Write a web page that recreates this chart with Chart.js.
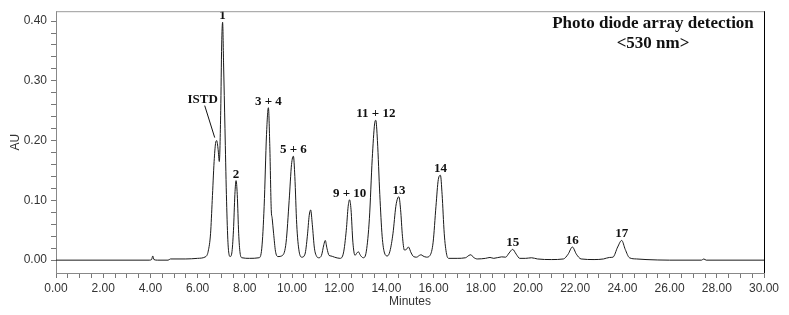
<!DOCTYPE html>
<html>
<head>
<meta charset="utf-8">
<script src="https://cdn.jsdelivr.net/npm/chart.js@4.4.1/dist/chart.umd.min.js"></script>
<style>
  html, body { margin: 0; padding: 0; background: #fff; }
  #wrap { width: 789px; height: 315px; position: relative; }
</style>
</head>
<body>
<div id="wrap"><canvas id="chart"></canvas></div>
<script>
// retention time (min) and absorbance (AU)
const times = [
  0.00, 3.95, 4.05, 4.10, 4.15, 4.30, 4.75, 4.85, 5.50, 6.00,
  6.35, 6.45, 6.55, 6.62, 6.70, 6.76, 6.81, 6.87, 6.92, 6.98,
  7.02, 7.06, 7.10, 7.16, 7.22, 7.28, 7.33, 7.38, 7.45, 7.52,
  7.58, 7.63, 7.68, 7.74, 7.80, 7.88, 8.20, 8.60, 8.72, 8.82,
  8.92, 9.00, 9.06, 9.12, 9.16, 9.22, 9.30, 9.40, 9.60, 9.75,
  9.88, 9.98, 10.06, 10.12, 10.20, 10.30, 10.42, 10.55, 10.65, 10.73,
  10.79, 10.86, 10.95, 11.05, 11.13, 11.25, 11.35, 11.41, 11.48, 11.57,
  11.65, 11.80, 12.03, 12.18, 12.30, 12.38, 12.44, 12.50, 12.58, 12.67,
  12.75, 12.81, 12.90, 13.02, 13.15, 13.28, 13.40, 13.50, 13.55, 13.62,
  13.72, 13.82, 13.92, 14.04, 14.15, 14.28, 14.40, 14.48, 14.53, 14.60,
  14.68, 14.76, 14.85, 14.93, 15.05, 15.15, 15.28, 15.40, 15.47, 15.55,
  15.70, 15.85, 15.98, 16.10, 16.20, 16.29, 16.36, 16.45, 16.55, 16.65,
  17.00, 17.35, 17.50, 17.58, 17.68, 17.85, 18.20, 18.39, 18.55, 18.88,
  19.05, 19.20, 19.35, 19.50, 19.65, 19.90, 20.15, 20.40, 21.00, 21.50,
  21.70, 21.88, 22.05, 22.25, 22.80, 23.20, 23.45, 23.60, 23.80, 23.97,
  24.12, 24.30, 24.60, 25.00, 26.00, 27.35, 27.45, 27.55, 30.00
];
const absorbance = [
  0.000, 0.000, 0.001, 0.007, 0.001, 0.000, 0.000, 0.002, 0.002, 0.003,
  0.006, 0.015, 0.045, 0.100, 0.165, 0.195, 0.200, 0.185, 0.165, 0.250,
  0.360, 0.398, 0.330, 0.220, 0.110, 0.035, 0.010, 0.006, 0.012, 0.050,
  0.110, 0.133, 0.110, 0.045, 0.012, 0.004, 0.003, 0.004, 0.020, 0.090,
  0.210, 0.255, 0.190, 0.085, 0.070, 0.045, 0.015, 0.006, 0.008, 0.030,
  0.100, 0.160, 0.174, 0.140, 0.060, 0.015, 0.005, 0.010, 0.040, 0.075,
  0.084, 0.060, 0.020, 0.006, 0.004, 0.008, 0.026, 0.033, 0.020, 0.008,
  0.007, 0.005, 0.003, 0.012, 0.050, 0.090, 0.101, 0.085, 0.030, 0.008,
  0.012, 0.014, 0.008, 0.004, 0.015, 0.070, 0.170, 0.228, 0.234, 0.200,
  0.110, 0.040, 0.012, 0.007, 0.015, 0.045, 0.090, 0.104, 0.106, 0.085,
  0.040, 0.017, 0.018, 0.022, 0.012, 0.006, 0.005, 0.008, 0.009, 0.007,
  0.005, 0.008, 0.030, 0.090, 0.135, 0.142, 0.110, 0.045, 0.010, 0.003,
  0.003, 0.004, 0.008, 0.009, 0.005, 0.002, 0.003, 0.0045, 0.003, 0.0055,
  0.005, 0.012, 0.018, 0.010, 0.003, 0.003, 0.004, 0.002, 0.001, 0.002,
  0.010, 0.022, 0.010, 0.002, 0.001, 0.002, 0.0045, 0.005, 0.022, 0.033,
  0.018, 0.004, 0.002, 0.001, 0.000, 0.000, 0.002, 0.000, 0.000
];

// peak labels
const peakNames = ['ISTD', '1', '2', '3 + 4', '5 + 6', '9 + 10', '11 + 12', '13', '14', '15', '16', '17'];
const peakTimes = [6.81, 7.06, 7.63, 9.00, 10.06, 12.44, 13.55, 14.53, 16.29, 19.35, 21.88, 23.97];
const peakHeights = [0.200, 0.398, 0.133, 0.255, 0.174, 0.101, 0.234, 0.106, 0.142, 0.018, 0.022, 0.033];

// axis ticks
const xTicks = [];
for (let i = 0; i <= 60; i++) xTicks.push(i * 0.5);
const yTicks = [];
for (let i = 0; i <= 20; i++) yTicks.push(Math.round(i * 2) / 100);

const detectorTitle = ['Photo diode array detection', '<530 nm>'];

const labelsPlugin = {
  id: 'peakLabels',
  afterDatasetsDraw(chart) {
    const { ctx, scales: { x, y }, chartArea } = chart;
    ctx.save();
    ctx.fillStyle = '#111';
    ctx.textAlign = 'center';
    ctx.textBaseline = 'alphabetic';
    ctx.font = 'bold 13px "Liberation Serif", serif';
    peakNames.forEach((name, i) => {
      const px = x.getPixelForValue(peakTimes[i]);
      const py = y.getPixelForValue(peakHeights[i]);
      if (name === 'ISTD') {
        ctx.fillText(name, px - 14, py - 38);
        ctx.strokeStyle = '#111';
        ctx.lineWidth = 1;
        ctx.beginPath();
        ctx.moveTo(px - 12, py - 35);
        ctx.lineTo(px - 2, py - 3);
        ctx.stroke();
      } else {
        ctx.fillText(name, px, py - 3);
      }
    });

    // detector title
    ctx.font = 'bold 17px "Liberation Serif", serif';
    ctx.fillText(detectorTitle[0], 653, 28);
    ctx.fillText(detectorTitle[1], 653, 48);

    // frame: top grey, right black
    ctx.lineWidth = 1;
    ctx.strokeStyle = '#9a9a9a';
    ctx.beginPath();
    ctx.moveTo(chartArea.left, chartArea.top + 0.5);
    ctx.lineTo(chartArea.right, chartArea.top + 0.5);
    ctx.stroke();
    ctx.strokeStyle = '#000';
    ctx.beginPath();
    ctx.moveTo(chartArea.right + 0.5, chartArea.top);
    ctx.lineTo(chartArea.right + 0.5, chartArea.bottom);
    ctx.stroke();
    ctx.restore();
  }
};

const ctx = document.getElementById('chart').getContext('2d');
new Chart(ctx, {
  type: 'line',
  data: {
    datasets: [{
      data: times.map((t, i) => ({ x: t, y: absorbance[i] })),
      borderColor: '#1a1a1a',
      borderWidth: 1,
      pointRadius: 0,
      fill: false,
      cubicInterpolationMode: 'monotone'
    }]
  },
  options: {
    responsive: true,
    maintainAspectRatio: false,
    animation: false,
    layout: { padding: { top: 8, right: 25, left: 0, bottom: 0 } },
    plugins: {
      legend: { display: false },
      tooltip: { enabled: false }
    },
    scales: {
      x: {
        type: 'linear',
        min: 0,
        max: 30,
        afterBuildTicks: (axis) => { axis.ticks = xTicks.map(v => ({ value: v })); },
        afterFit: (axis) => { axis.height = 42; },
        ticks: {
          autoSkip: false,
          maxRotation: 0,
          padding: 3,
          color: '#333',
          font: { family: '"Liberation Sans", Arial, sans-serif', size: 12 },
          callback: (v) => (Math.abs(v % 2) < 1e-6 ? v.toFixed(2) : '')
        },
        grid: {
          drawOnChartArea: false,
          drawTicks: true,
          tickLength: 5,
          tickColor: '#777'
        },
        border: { display: true, color: '#888', width: 1 },
        title: {
          display: true,
          text: 'Minutes',
          color: '#333',
          padding: { top: 6, bottom: 6 },
          font: { family: '"Liberation Sans", Arial, sans-serif', size: 12 }
        }
      },
      y: {
        min: -0.0215,
        max: 0.4165,
        afterBuildTicks: (axis) => { axis.ticks = yTicks.map(v => ({ value: v })); },
        afterFit: (axis) => { axis.width = 56; },
        ticks: {
          autoSkip: false,
          padding: 4,
          color: '#333',
          font: { family: '"Liberation Sans", Arial, sans-serif', size: 12 },
          callback: (v) => (Math.round(v * 100) % 10 === 0 ? v.toFixed(2) : '')
        },
        grid: {
          drawOnChartArea: false,
          drawTicks: true,
          tickLength: 5,
          tickColor: '#777'
        },
        border: { display: true, color: '#888', width: 1 },
        title: {
          display: true,
          text: 'AU',
          color: '#333',
          padding: { top: 8, bottom: 0 },
          font: { family: '"Liberation Sans", Arial, sans-serif', size: 12 }
        }
      }
    }
  },
  plugins: [labelsPlugin]
});
</script>
</body>
</html>
